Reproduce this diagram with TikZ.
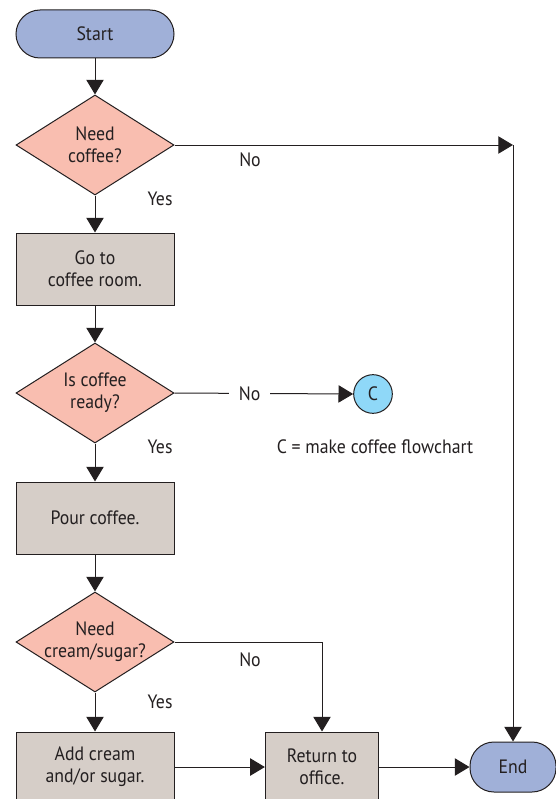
\documentclass[tikz,border=0pt]{standalone}
\usepackage{fontspec}
\setmainfont[FakeStretch=0.92]{PT Sans}
\usetikzlibrary{shapes.geometric,arrows.meta}

\definecolor{termfill}{RGB}{160,176,216}
\definecolor{askfill}{RGB}{249,190,176}
\definecolor{stepfill}{RGB}{214,206,200}
\definecolor{linkfill}{RGB}{143,216,248}
\definecolor{inkline}{RGB}{35,31,32}

\tikzset{every picture/.style={line width=0.75pt}}
\tikzset{
  termbox/.style={draw=inkline,fill=termfill,rounded corners=18pt,minimum width=118.5pt,minimum height=36pt,inner sep=0pt,align=center},
  askbox/.style={draw=inkline,fill=askfill,diamond,aspect=1.58,inner sep=-7pt,minimum width=118.5pt,minimum height=75pt,align=center},
  stepbox/.style={draw=inkline,fill=stepfill,minimum width=118.5pt,minimum height=54pt,inner sep=0pt,align=center},
  linkbox/.style={draw=inkline,fill=linkfill,circle,minimum size=29pt,inner sep=0pt},
  flow/.style={draw=inkline,-{Triangle[length=11pt,width=13pt]}},
  tag/.style={inner sep=0.75pt}
}

\begin{document}
\begin{tikzpicture}[x=0.75pt,y=0.75pt,yscale=-1,xscale=1,font=\fontsize{14.5}{16.5}\selectfont,text=inkline]
\useasboundingbox (0,0) rectangle (556,799);

%Shape: Terminal
\node [termbox] (start) at (95,34) {Start};
%Shape: Diamond
\node [askbox] (ask1) at (95,145) {Need\\coffee?};
%Shape: Rectangle
\node [stepbox] (room) at (95,269) {Go to\\coffee room.};
%Shape: Diamond
\node [askbox] (ask2) at (95,393) {Is coffee\\ready?};
%Shape: Circle
\node [linkbox] (conn) at (373,394) {C};
%Shape: Rectangle
\node [stepbox] (pour) at (95,518) {Pour coffee.};
%Shape: Diamond
\node [askbox] (ask3) at (95,642) {Need\\cream/sugar?};
%Shape: Rectangle
\node [stepbox, minimum height=52.5pt] (add) at (95,767) {Add cream\\and/or sugar.};
%Shape: Rectangle
\node [stepbox, minimum width=85pt, minimum height=52.5pt] (back) at (322,767) {Return to\\office.};
%Shape: Terminal
\node [termbox, minimum width=64.5pt, minimum height=37.5pt] (end) at (513,767) {End};
\coordinate (turn) at (end.north |- ask1.east);

%Straight Lines
\draw [flow] (start) -- (ask1);
\draw [flow] (ask1) -- (room);
\draw [flow] (room) -- (ask2);
\draw [flow] (ask2) -- (pour);
\draw [flow] (pour) -- (ask3);
\draw [flow] (ask3) -- (add);
\draw [flow] (add) -- (back);
\draw [flow] (back) -- (end);
\draw [flow] (ask3.east) -| (back.north);
\draw [flow] (ask1.east) -- (turn);
\draw [flow] (turn) -- (end.north);
\draw [flow] (ask2.east) -- node [tag, fill=white, pos=0.42, inner xsep=7pt] (no2) {No} (conn.west);

% Text Node
\node [tag] (no1) at (250,160) {No};
% Text Node
\node [tag] (no3) at (250,660) {No};
% Text Node
\node [tag] (yes1) at (160,199) {Yes};
% Text Node
\node [tag] (yes2) at (160,447) {Yes};
% Text Node
\node [tag] (yes3) at (160,702) {Yes};
% Text Node
\node [tag] (note) at (375,447) {C = make coffee flowchart};

\end{tikzpicture}
\end{document}
